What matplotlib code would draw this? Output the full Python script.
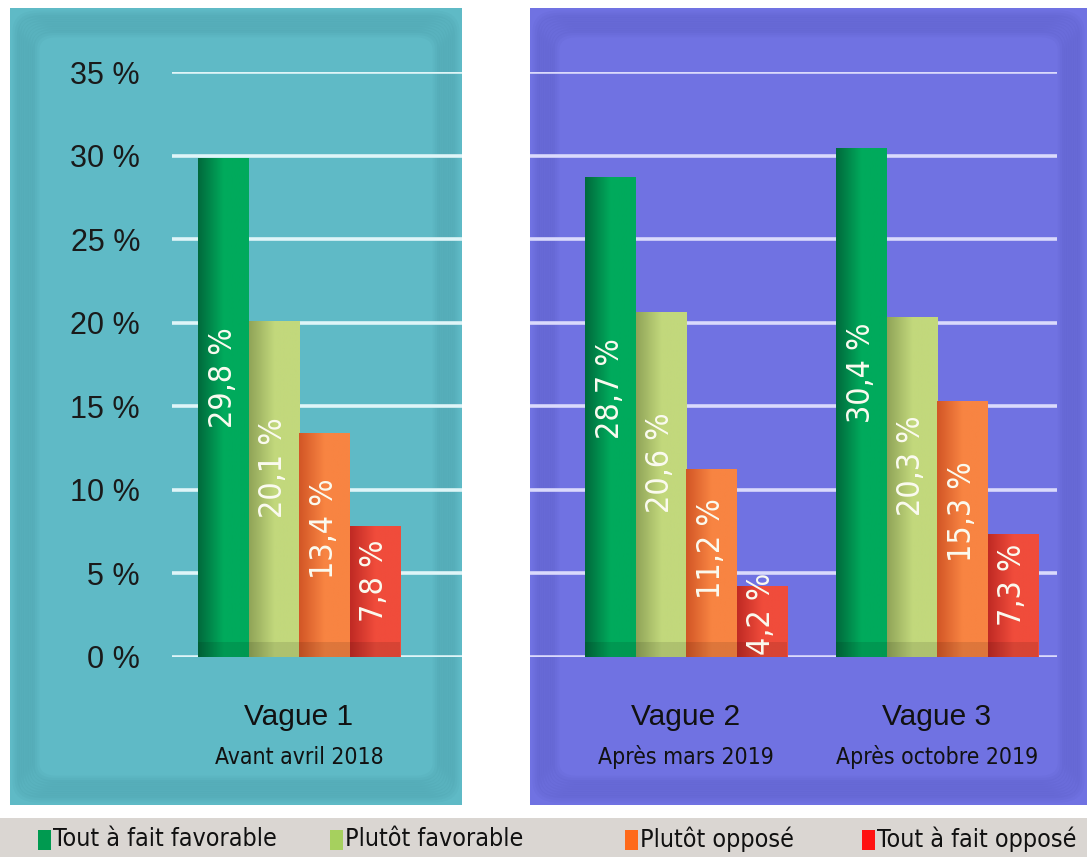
import numpy as np
import matplotlib
matplotlib.use("Agg")
import matplotlib.pyplot as plt
from matplotlib.patches import FancyBboxPatch, Rectangle
from matplotlib.colors import LinearSegmentedColormap
import matplotlib.font_manager as fm

# ---------------- data ----------------
waves = ["Vague 1", "Vague 2", "Vague 3"]
wave_dates = ["Avant avril 2018", "Après mars 2019", "Après octobre 2019"]
series = ["Tout à fait favorable", "Plutôt favorable", "Plutôt opposé", "Tout à fait opposé"]
tout_favorable = [29.8, 28.7, 30.4]
plutot_favorable = [20.1, 20.6, 20.3]
plutot_oppose = [13.4, 11.2, 15.3]
tout_oppose = [7.8, 4.2, 7.3]
yticks = [0, 5, 10, 15, 20, 25, 30, 35]

values = [tout_favorable, plutot_favorable, plutot_oppose, tout_oppose]
bar_grad = [("#006a3c", "#00aa5c"), ("#90a458", "#c2d87c"),
            ("#d25626", "#f88442"), ("#c02a24", "#f04c3b")]
legend_cols = ["#009a50", "#a6d05e", "#ff6a1a", "#ff1212"]

names = {f.name for f in fm.fontManager.ttflist}
cond = "Liberation Sans Narrow" if "Liberation Sans Narrow" in names else "DejaVu Sans"
cond_kw = dict(family=cond)
if cond == "DejaVu Sans":
    cond_kw["stretch"] = "condensed"

W, H = 1087, 857
fig = plt.figure(figsize=(W / 100, H / 100), dpi=100)
fig.patch.set_facecolor("white")

def fx(px): return px / W
def fy(py): return 1 - py / H

# ---------------- panels ----------------
def panel(x0, x1, y0, y1, base, shadow):
    p = FancyBboxPatch((fx(x0), fy(y1)), fx(x1 - x0), (y1 - y0) / H,
                       boxstyle="square,pad=0", transform=fig.transFigure,
                       fc=base, ec="none", zorder=-3)
    fig.patches.append(p)
    for i in range(10):
        inset = 6 + i * 2.2
        r = FancyBboxPatch((fx(x0 + inset), fy(y1 - inset)),
                           fx(x1 - x0 - 2 * inset), (y1 - y0 - 2 * inset) / H,
                           boxstyle="round,pad=0,rounding_size=0.02",
                           transform=fig.transFigure, fc="none",
                           ec=shadow, lw=5, alpha=0.04, zorder=-2)
        fig.patches.append(r)

panel(10, 462, 8, 805, "#5fbac6", "#1f5f66")
panel(530, 1087, 8, 805, "#7072e2", "#2a2c80")

fig.patches.append(Rectangle((0, 0), 1, (H - 818) / H, transform=fig.transFigure,
                             fc="#dad6d2", ec="none", zorder=-3))

# ---------------- axes ----------------
unit = 251.0
bw = 50.5 / unit
y_bot, y_top = 657, 72

axL = fig.add_axes([fx(172), fy(y_bot), fx(462 - 172), (y_bot - y_top) / H])
axR = fig.add_axes([fx(530), fy(y_bot), fx(1057 - 530), (y_bot - y_top) / H])
xlimL = (-127 / unit, (290 - 127) / unit)
xlimR = (-156 / unit, (527 - 156) / unit)

for ax, gc in ((axL, "#dff5f8"), (axR, "#dadafc")):
    ax.set_zorder(2)
    ax.set_facecolor("none")
    for s in ax.spines.values():
        s.set_visible(False)
    ax.set_yticks(yticks)
    ax.set_xticks([])
    ax.tick_params(axis="y", length=0)
    for t in yticks:
        ax.axhline(t, color=gc, lw=2.6, zorder=1)

axL.set_yticklabels([f"{t} %" for t in yticks], family="Liberation Sans",
                    fontsize=22, color="#1a1a1a")
axL.tick_params(axis="y", pad=23)
axR.set_yticklabels([])

grad = np.linspace(0, 1, 64)[None, :]
groups = [(axL, 0.0, 0), (axR, 0.0, 1), (axR, 1.0, 2)]
offsets = [-1.5, -0.5, 0.5, 1.5]

for ax, xc, gi in groups:
    for si in range(4):
        v = values[si][gi]
        x0 = xc + offsets[si] * bw - bw / 2
        cmap = LinearSegmentedColormap.from_list("g", [bar_grad[si][0], bar_grad[si][1],
                                                       bar_grad[si][1]])
        ax.imshow(grad, extent=(x0, x0 + bw, 0, v), aspect="auto", cmap=cmap,
                  zorder=3, interpolation="bilinear")
        ax.bar(x0 + bw / 2, 0.9, width=bw, bottom=0, color="black", alpha=0.10,
               zorder=3.5, lw=0)
        lab = f"{v:.1f}".replace(".", ",") + " %"
        ax.text(x0 + bw / 2, v * 0.55 + 0.3, lab, rotation=90, ha="center", va="center",
                color="#fbfbf0", fontsize=23, zorder=5, **cond_kw)
    ax.annotate(waves[gi], (xc, 0), xytext=(0, -43), textcoords="offset points",
                ha="center", va="center", fontsize=21.5, family="Liberation Sans",
                color="#111111", annotation_clip=False)
    ax.annotate(wave_dates[gi], (xc, 0), xytext=(0, -72), textcoords="offset points",
                ha="center", va="center", fontsize=16.5, color="#111111",
                annotation_clip=False, **cond_kw)

axL.set_xlim(*xlimL)
axR.set_xlim(*xlimR)
for ax in (axL, axR):
    ax.set_ylim(0, 35)

# ---------------- legend ----------------
leg_x = [38, 330, 625, 862]
for i, (x, name) in enumerate(zip(leg_x, series)):
    fig.patches.append(Rectangle((fx(x), fy(850)), 13 / W, 20 / H,
                                 transform=fig.transFigure, fc=legend_cols[i],
                                 ec="none", zorder=2))
    fig.text(fx(x + 15), fy(839), name, ha="left", va="center", fontsize=18,
             color="#111111", **cond_kw)

fig.savefig("out.png", dpi=100)
